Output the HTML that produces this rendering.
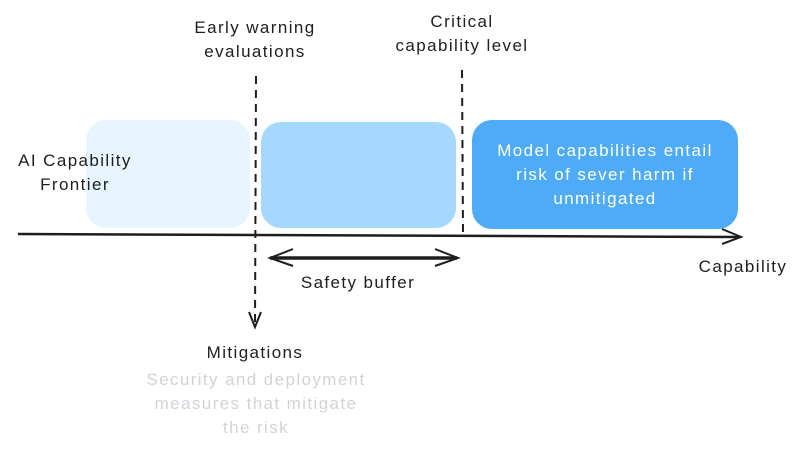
<!DOCTYPE html>
<html><head><style>
body{margin:0;width:799px;height:451px;background:#fff;overflow:hidden;position:relative;font-family:"Liberation Sans",sans-serif;}
.t{position:absolute;font-size:17px;letter-spacing:1.4px;color:#1e1e1e;text-align:center;line-height:24px;white-space:nowrap}
</style></head><body>
<svg width="799" height="451" style="position:absolute;left:0;top:0">
<rect x="86" y="120" width="164" height="108" rx="20" fill="#e7f5ff"/>
<rect x="261" y="122" width="195" height="106" rx="20" fill="#a5d8ff"/>
<rect x="472" y="120" width="266" height="109" rx="20" fill="#4dabf7"/>
<line x1="18" y1="234" x2="740" y2="237" stroke="#1e1e1e" stroke-width="2.5"/>
<polyline points="722,229 741,237 722,244" fill="none" stroke="#1e1e1e" stroke-width="2"/>
<line x1="256" y1="76" x2="255" y2="326" stroke="#1e1e1e" stroke-width="2" stroke-dasharray="8,6"/>
<polyline points="249,312 255,327 261,312" fill="none" stroke="#1e1e1e" stroke-width="2"/>
<line x1="462" y1="70" x2="463" y2="232" stroke="#1e1e1e" stroke-width="2" stroke-dasharray="8,6"/>
<line x1="270" y1="258" x2="457" y2="258" stroke="#1e1e1e" stroke-width="3.5"/>
<polyline points="293,249 270,258 293,266" fill="none" stroke="#1e1e1e" stroke-width="2"/>
<polyline points="435,249 458,258 435,266" fill="none" stroke="#1e1e1e" stroke-width="2"/>
</svg>
<div class="t" style="left:152px;top:16px;width:206px">Early warning<br>evaluations</div>
<div class="t" style="left:362px;top:10px;width:200px">Critical<br>capability level</div>
<div class="t" style="left:0px;top:149px;width:150px">AI Capability<br>Frontier</div>
<div class="t" style="left:462px;top:139px;width:286px;color:#fff">Model capabilities entail<br>risk of sever harm if<br>unmitigated</div>
<div class="t" style="left:258px;top:271px;width:200px">Safety buffer</div>
<div class="t" style="left:683px;top:255px;width:120px">Capability</div>
<div class="t" style="left:170px;top:341px;width:170px">Mitigations</div>
<div class="t" style="left:106px;top:368px;width:300px;color:#d0d4d8">Security and deployment<br>measures that mitigate<br>the risk</div>
</body></html>
